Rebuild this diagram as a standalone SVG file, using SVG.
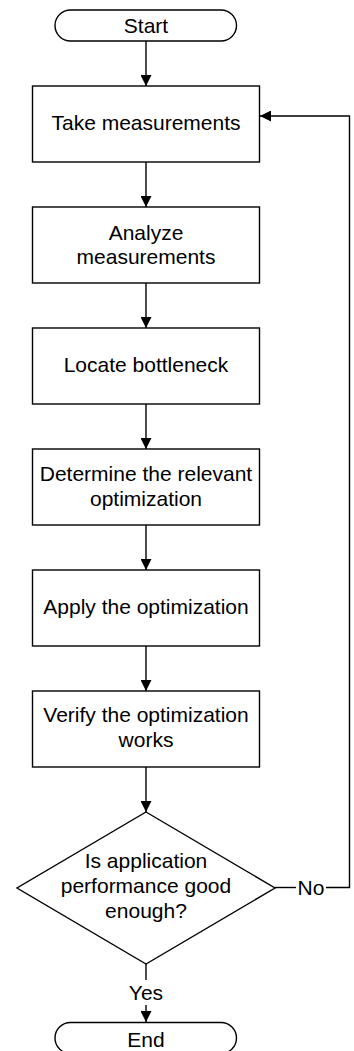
<svg xmlns="http://www.w3.org/2000/svg" width="354" height="1051" viewBox="0 0 354 1051">
<defs>
<style>
.n{fill:#fff;stroke:#000;stroke-width:1.4}
.t{font-family:"Liberation Sans",Arial,sans-serif;font-size:21px;fill:#000;text-anchor:middle}
.c{fill:none;stroke:#000;stroke-width:1.4}
</style>
<marker id="ah" viewBox="0 0 11 11" refX="11" refY="5.5" markerWidth="11" markerHeight="11" markerUnits="userSpaceOnUse" orient="auto">
<path d="M0,0 L11,5.5 L0,11 z" fill="#000"/>
</marker>
</defs>
<rect width="354" height="1051" fill="#fff"/>
<g id="connectors">
<line class="c" x1="146" y1="41" x2="146" y2="86" marker-end="url(#ah)"/>
<line class="c" x1="146" y1="162" x2="146" y2="207" marker-end="url(#ah)"/>
<line class="c" x1="146" y1="283" x2="146" y2="328" marker-end="url(#ah)"/>
<line class="c" x1="146" y1="404" x2="146" y2="449" marker-end="url(#ah)"/>
<line class="c" x1="146" y1="525" x2="146" y2="570" marker-end="url(#ah)"/>
<line class="c" x1="146" y1="646" x2="146" y2="691" marker-end="url(#ah)"/>
<line class="c" x1="146" y1="767" x2="146" y2="812" marker-end="url(#ah)"/>
<line class="c" x1="146" y1="964" x2="146" y2="980"/>
<line class="c" x1="146" y1="1005" x2="146" y2="1022" marker-end="url(#ah)"/>
<text class="t" x="146" y="1000">Yes</text>
<polyline class="c" points="275,887.5 296,887.5"/>
<polyline class="c" points="326,887.5 349.5,887.5 349.5,116 260,116" marker-end="url(#ah)"/>
<text class="t" x="311" y="895">No</text>
</g>
<g id="start">
<rect class="n" x="55" y="10" width="181.5" height="31" rx="15.5"/>
<text class="t" x="146" y="32.5">Start</text>
</g>
<g id="take">
<rect class="n" x="32.5" y="86" width="227" height="76"/>
<text class="t" x="146" y="130">Take measurements</text>
</g>
<g id="analyze">
<rect class="n" x="32.5" y="207" width="227" height="76"/>
<text class="t" x="146" y="239.5">Analyze</text>
<text class="t" x="146" y="264">measurements</text>
</g>
<g id="locate">
<rect class="n" x="32.5" y="328" width="227" height="76"/>
<text class="t" x="146" y="371.7">Locate bottleneck</text>
</g>
<g id="determine">
<rect class="n" x="32.5" y="449" width="227" height="76"/>
<text class="t" x="146" y="481">Determine the relevant</text>
<text class="t" x="146" y="505.5">optimization</text>
</g>
<g id="apply">
<rect class="n" x="32.5" y="570" width="227" height="76"/>
<text class="t" x="146" y="613.7">Apply the optimization</text>
</g>
<g id="verify">
<rect class="n" x="32.5" y="691" width="227" height="76"/>
<text class="t" x="146" y="722">Verify the optimization</text>
<text class="t" x="146" y="746.5">works</text>
</g>
<g id="decision">
<polygon class="n" points="146,812 275,888 146,964 17,888"/>
<text class="t" x="146" y="868.3">Is application</text>
<text class="t" x="146" y="893.3">performance good</text>
<text class="t" x="146" y="918.3">enough?</text>
</g>
<g id="end">
<rect class="n" x="55" y="1022.5" width="181.5" height="31" rx="15.5"/>
<text class="t" x="146" y="1047">End</text>
</g>
</svg>
